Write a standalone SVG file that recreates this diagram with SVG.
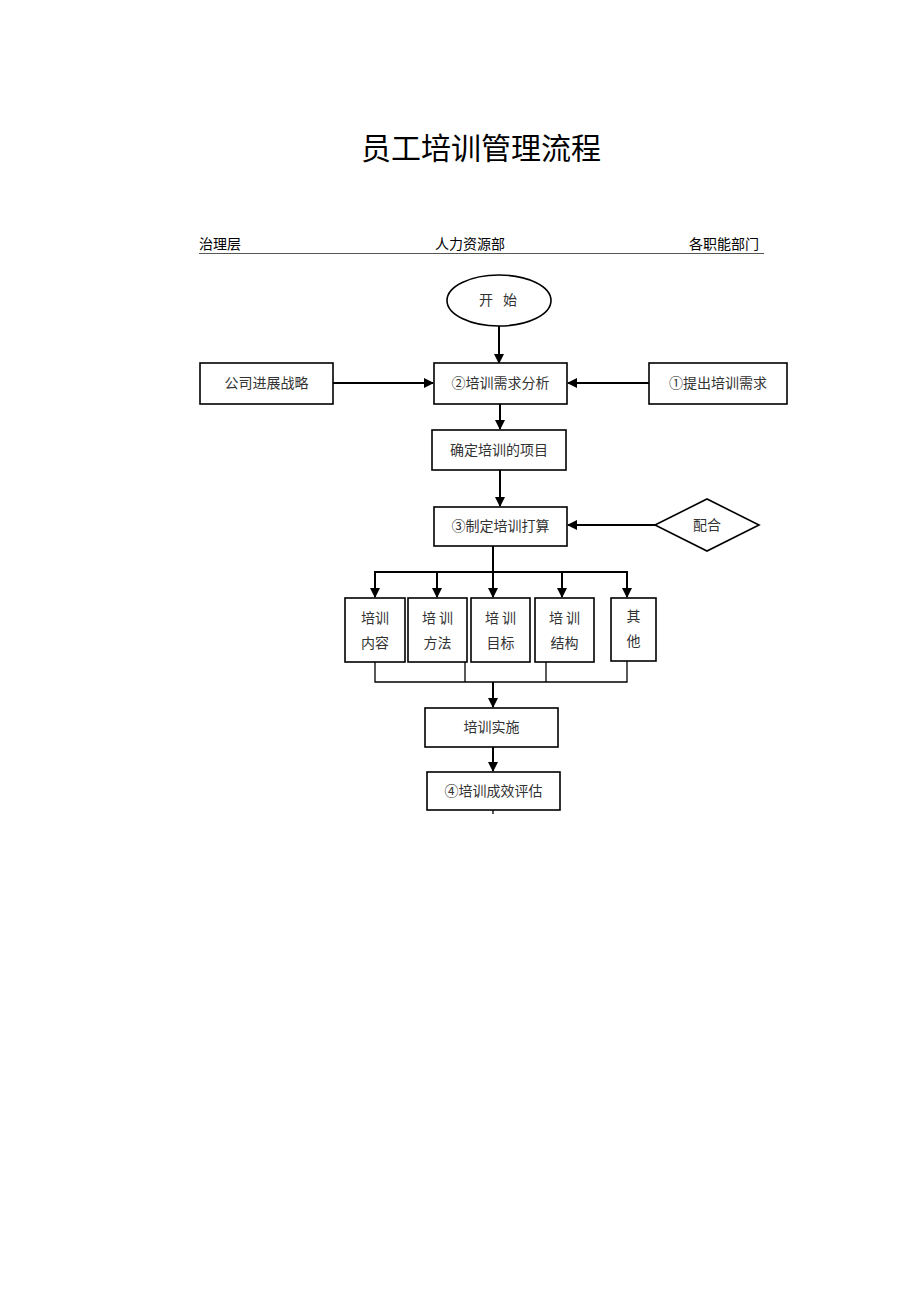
<svg xmlns="http://www.w3.org/2000/svg" width="920" height="1301" viewBox="0 0 920 1301">
<defs>
<marker id="ah" markerWidth="10" markerHeight="10" refX="9" refY="5" orient="auto" markerUnits="userSpaceOnUse">
<path d="M0,0 L10,5 L0,10 Z" fill="#000"/>
</marker>
<style>
.t{font-family:"Noto Sans CJK SC","Noto Sans",sans-serif;fill:#333;}
.n{font-size:14px;text-anchor:middle;}
.h{font-size:14px;fill:#000;}
.b{fill:#fff;stroke:#000;stroke-width:1.6;}
.c{fill:none;stroke:#000;stroke-width:2;}
.c1{fill:none;stroke:#000;stroke-width:1.3;}
</style>
</defs>
<rect width="920" height="1301" fill="#fff"/>
<text class="t" x="481" y="159" font-size="30" text-anchor="middle" fill="#000" style="fill:#000">员工培训管理流程</text>
<g id="header">
<text class="t h" x="199" y="249">治理层</text>
<text class="t h" x="470" y="249" text-anchor="middle">人力资源部</text>
<text class="t h" x="759" y="249" text-anchor="end">各职能部门</text>
<line x1="199" y1="253.5" x2="764" y2="253.5" stroke="#555" stroke-width="1"/>
</g>
<g id="connectors">
<line class="c" x1="499" y1="326" x2="499" y2="363" marker-end="url(#ah)"/>
<line class="c" x1="333" y1="383" x2="433" y2="383" marker-end="url(#ah)"/>
<line class="c" x1="649" y1="383" x2="568" y2="383" marker-end="url(#ah)"/>
<line class="c" x1="500" y1="404" x2="500" y2="429" marker-end="url(#ah)"/>
<line class="c" x1="500" y1="470" x2="500" y2="506" marker-end="url(#ah)"/>
<line class="c" x1="655" y1="525" x2="568" y2="525" marker-end="url(#ah)"/>
<line class="c" x1="493" y1="546" x2="493" y2="572"/>
<line class="c" x1="374" y1="572" x2="628" y2="572"/>
<line class="c" x1="375" y1="572" x2="375" y2="597" marker-end="url(#ah)"/>
<line class="c" x1="437" y1="572" x2="437" y2="597" marker-end="url(#ah)"/>
<line class="c" x1="493" y1="572" x2="493" y2="597" marker-end="url(#ah)"/>
<line class="c" x1="562" y1="572" x2="562" y2="597" marker-end="url(#ah)"/>
<line class="c" x1="627" y1="572" x2="627" y2="597" marker-end="url(#ah)"/>
<polyline class="c1" points="375,662 375,682 627,682 627,661"/>
<line class="c1" x1="465" y1="662" x2="465" y2="682"/>
<line class="c1" x1="546" y1="662" x2="546" y2="682"/>
<line class="c" x1="493" y1="682" x2="493" y2="707" marker-end="url(#ah)"/>
<line class="c" x1="493" y1="747" x2="493" y2="771" marker-end="url(#ah)"/>
<line class="c1" x1="493" y1="810" x2="493" y2="814"/>
</g>
<g id="start">
<ellipse class="b" cx="499" cy="300.5" rx="52" ry="25.5"/>
<text class="t n" x="486" y="305">开</text>
<text class="t n" x="510" y="305">始</text>
</g>
<g id="strategy">
<rect class="b" x="200" y="363" width="133" height="41"/>
<text class="t n" x="266.5" y="388">公司进展战略</text>
</g>
<g id="analysis">
<rect class="b" x="434" y="363" width="133" height="41"/>
<text class="t n" x="500.5" y="388">②培训需求分析</text>
</g>
<g id="request">
<rect class="b" x="649" y="363" width="138" height="41"/>
<text class="t n" x="718" y="388">①提出培训需求</text>
</g>
<g id="project">
<rect class="b" x="432" y="430" width="134" height="40"/>
<text class="t n" x="499" y="455">确定培训的项目</text>
</g>
<g id="plan">
<rect class="b" x="434" y="507" width="133" height="39"/>
<text class="t n" x="500.5" y="531">③制定培训打算</text>
</g>
<g id="cooperate">
<polygon class="b" points="655,525 707,499 759,525 707,551"/>
<text class="t n" x="707" y="530">配合</text>
</g>
<g id="content">
<rect class="b" x="345" y="598" width="60" height="64"/>
<text class="t n" x="375" y="623">培训</text>
<text class="t n" x="375" y="648">内容</text>
</g>
<g id="method">
<rect class="b" x="408" y="598" width="59" height="64"/>
<text class="t n" x="437.5" y="623">培 训</text>
<text class="t n" x="437.5" y="648">方法</text>
</g>
<g id="goal">
<rect class="b" x="471" y="598" width="59" height="64"/>
<text class="t n" x="500.5" y="623">培 训</text>
<text class="t n" x="500.5" y="648">目标</text>
</g>
<g id="structure">
<rect class="b" x="535" y="598" width="59" height="64"/>
<text class="t n" x="564.5" y="623">培 训</text>
<text class="t n" x="564.5" y="648">结构</text>
</g>
<g id="other">
<rect class="b" x="611" y="598" width="45" height="63"/>
<text class="t n" x="633.5" y="621">其</text>
<text class="t n" x="633.5" y="646">他</text>
</g>
<g id="implement">
<rect class="b" x="425" y="708" width="133" height="39"/>
<text class="t n" x="491.5" y="732">培训实施</text>
</g>
<g id="evaluate">
<rect class="b" x="427" y="772" width="133" height="38" stroke-width="2"/>
<text class="t n" x="493.5" y="796">④培训成效评估</text>
</g>
</svg>
